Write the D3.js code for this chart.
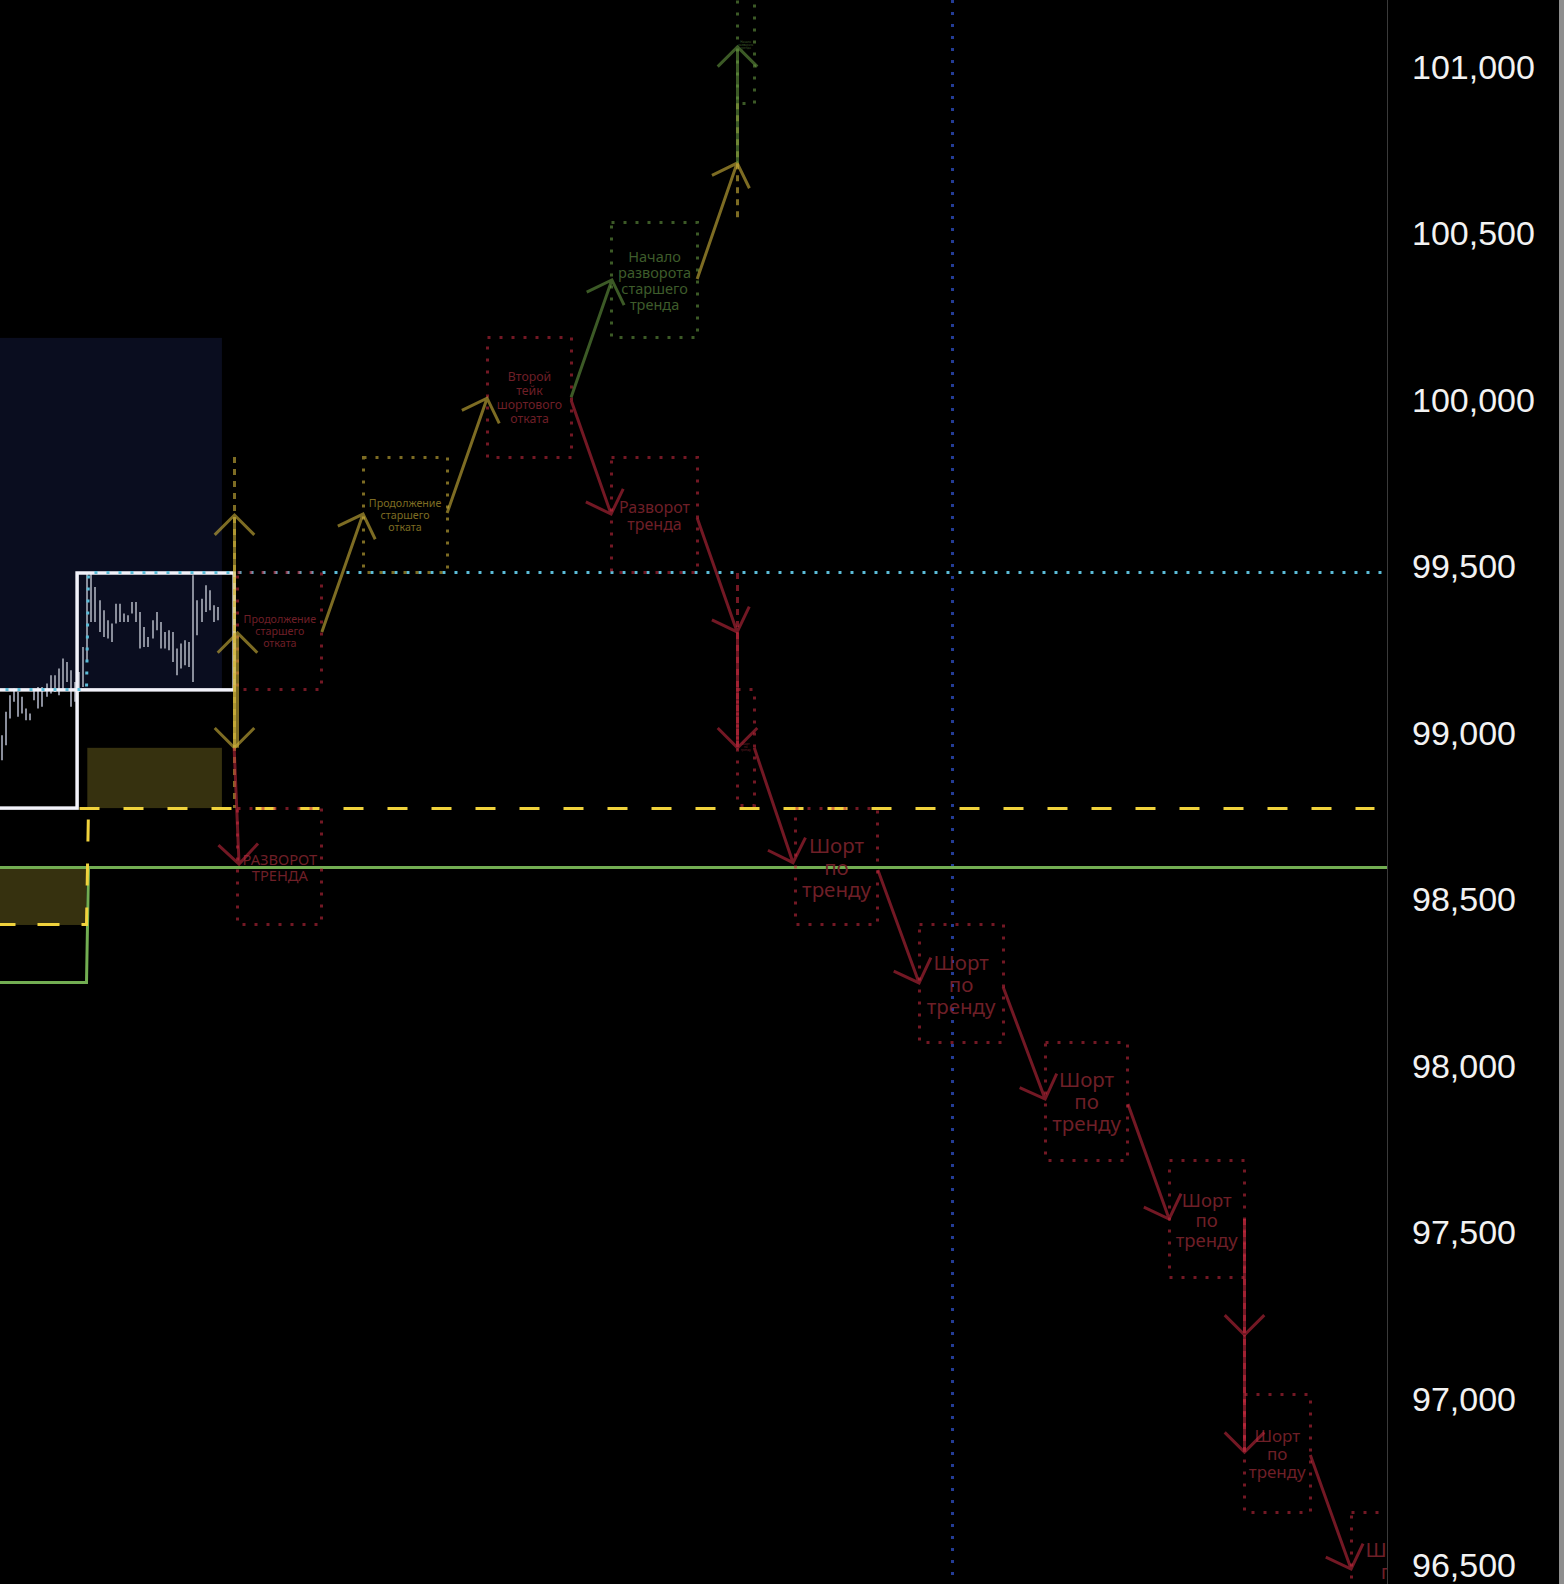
<!DOCTYPE html>
<html>
<head>
<meta charset="utf-8">
<script src="https://cdn.jsdelivr.net/npm/d3@7"></script>
<style>
html, body { margin: 0; padding: 0; background: #000; overflow: hidden; }
svg { display: block; }
</style>
</head>
<body>
<svg width="1564" height="1584"></svg>
<script>
// ---------- data ----------
// price axis
var priceTicks = [101000, 100500, 100000, 99500, 99000, 98500, 98000, 97500, 97000, 96500];

// price bars (index = bar number), high / low
var barHigh = [98995, 99065, 99115, 99135, 99125, 99110, 99075, 99060, 99130, 99140,
               99140, 99150, 99175, 99175, 99195, 99225, 99215, 99190, 99155, 99185,
               99260, 99485, 99485, 99440, 99400, 99370, 99340, 99330, 99390, 99390,
               99360, 99355, 99395, 99395, 99365, 99320, 99290, 99340, 99365, 99335,
               99305, 99310, 99305, 99255, 99270, 99280, 99275, 99475, 99400, 99405,
               99445, 99430, 99385, 99380];
var barLow  = [98920, 98965, 99045, 99095, 99050, 99060, 99040, 99040, 99100, 99075,
               99080, 99110, 99120, 99125, 99115, 99130, 99155, 99080, 99095, 99125,
               99140, 99220, 99335, 99335, 99305, 99290, 99285, 99275, 99330, 99335,
               99335, 99335, 99360, 99335, 99255, 99260, 99260, 99285, 99310, 99255,
               99255, 99250, 99215, 99175, 99195, 99205, 99200, 99155, 99295, 99335,
               99365, 99370, 99335, 99340];

// zones [fromBar, toBar, top, bottom]
var sessionZone = [-2, 54.0, 100188, 99131];
var fillZones = [[21.0, 54.0, 98957, 98776], [-2, 20.7, 98599, 98425]];
var rangeFrames = [[18.5, 57.0, 99482, 99131], [-6, 18.5, 99131, 98776]];

// level lines [bar, price]
var cyanLevel   = [[-2, 99131], [20.7, 99131], [21.4, 99482], [340, 99482]];
var yellowLevel = [[18.97, 98776], [336.5, 98776]];
var yellowStep  = [[-2, 98425], [20.7, 98425], [21.4, 98776]];
var greenLevel  = [[-2, 98599], [340, 98599]];
var greenStep   = [[-2, 98251], [20.7, 98251], [21.4, 98599]];
var sessionBar  = 233.2;

// scenario boxes
var shortText = ["Шорт", "по", "тренду"];
var boxes = [
  {from: 57.9,  to: 78.5,  hi: 99482,  lo: 99131, kind: "red",   text: ["Продолжение", "старшего", "отката"]},
  {from: 57.9,  to: 78.5,  hi: 98776,  lo: 98425, kind: "red",   text: ["РАЗВОРОТ", "ТРЕНДА"]},
  {from: 88.6,  to: 109.2, hi: 99830,  lo: 99482, kind: "olive", text: ["Продолжение", "старшего", "отката"]},
  {from: 119.2, to: 139.6, hi: 100188, lo: 99830, kind: "red",   text: ["Второй", "тейк", "шортового", "отката"]},
  {from: 149.6, to: 170.5, hi: 100536, lo: 100188, kind: "green", text: ["Начало", "разворота", "старшего", "тренда"]},
  {from: 149.6, to: 170.5, hi: 99830,  lo: 99482, kind: "red",   text: ["Разворот", "тренда"]},
  {from: 180.3, to: 184.5, hi: 99131,  lo: 98785, kind: "red",   text: shortText},
  {from: 180.3, to: 184.5, hi: 101245, lo: 100893, kind: "green", text: ["Начало", "разворота", "тренда"]},
  {from: 194.5, to: 214.8, hi: 98776,  lo: 98425, kind: "red",   text: shortText},
  {from: 224.9, to: 245.5, hi: 98425,  lo: 98071, kind: "red",   text: shortText},
  {from: 255.8, to: 276.1, hi: 98071,  lo: 97719, kind: "red",   text: shortText},
  {from: 286.2, to: 304.6, hi: 97719,  lo: 97365, kind: "red",   text: shortText},
  {from: 304.6, to: 320.8, hi: 97014,  lo: 96662, kind: "red",   text: shortText},
  {from: 330.8, to: 351.4, hi: 96662,  lo: 96310, kind: "red",   text: shortText}
];

// arrows [fromBar, fromPrice, toBar, toPrice, kind]
var arrows = [
  [57.0, 98957, 57.0, 99656, "olive"],
  [57.0, 99302, 57.0, 98957, "olive"],
  [57.9, 98957, 57.9, 99302, "olive"],
  [57.0, 98957, 58.2, 98608, "red"],
  [78.5, 99305, 88.6, 99659, "olive"],
  [109.2, 99662, 119.0, 100007, "olive"],
  [139.6, 100001, 149.4, 99659, "red"],
  [139.6, 100010, 149.6, 100362, "green"],
  [170.5, 100365, 180.3, 100713, "olive"],
  [180.3, 100713, 180.3, 101062, "green"],
  [170.5, 99647, 180.3, 99305, "red"],
  [180.3, 99305, 180.3, 98957, "red"],
  [184.5, 98957, 194.0, 98612, "red"],
  [214.8, 98590, 224.9, 98251, "red"],
  [245.5, 98239, 255.8, 97902, "red"],
  [276.1, 97887, 286.2, 97542, "red"],
  [304.6, 97542, 304.6, 97194, "red"],
  [304.6, 97194, 304.6, 96842, "red"],
  [320.8, 96833, 330.8, 96491, "red"]
];

// dashed vertical guides [bar, fromPrice, toPrice, kind]
var guides = [
  [57.0, 99830, 98776, "olive"],
  [180.3, 100893, 100548, "olive"],
  [180.3, 99482, 98957, "red"],
  [304.6, 97542, 96842, "red"]
];

// ---------- styles ----------
var kindColor = {red: "#c0283c", olive: "#d0b43a", green: "#64963f"};
var textColor = {red: "#6e1f27", olive: "#7d6c22", green: "#3e5c2b"};
var labelSize = [10.7, 14.7, 10.7, 12.3, 14.5, 16, 3, 3, 20.5, 20.5, 20.5, 18.5, 17, 20.5];
var labelStep = [12, 16, 12, 14, 16, 17, 3, 3, 22, 22, 22, 20, 18, 22];

// ---------- layout ----------
var svg = d3.select("svg"),
    width = 1564,
    height = 1584,
    plotRight = 1387;

var x = d3.scaleLinear().domain([-0.4, 339.6]).range([0, plotRight]);
var y = d3.scaleLinear().domain([96500, 101000]).range([1566, 67.5]);

// snap odd-width strokes onto the pixel grid so the dots stay crisp
function snap(v) { return Math.round(v - 0.5) + 0.5; }
var line = d3.line().x(function(d) { return snap(x(d[0])); }).y(function(d) { return snap(y(d[1])); });

svg.append("rect").attr("width", width).attr("height", height).attr("fill", "#000");

svg.append("defs").append("clipPath").attr("id", "plot")
  .append("rect").attr("width", plotRight).attr("height", height);

var g = svg.append("g").attr("clip-path", "url(#plot)");

// session background
g.append("rect")
    .attr("x", x(sessionZone[0])).attr("y", y(sessionZone[2]))
    .attr("width", x(sessionZone[1]) - x(sessionZone[0]))
    .attr("height", y(sessionZone[3]) - y(sessionZone[2]))
    .attr("fill", "#0a0d1f");

g.selectAll(".fill").data(fillZones).enter().append("rect")
    .attr("x", function(d) { return x(d[0]); })
    .attr("y", function(d) { return y(d[2]); })
    .attr("width", function(d) { return x(d[1]) - x(d[0]); })
    .attr("height", function(d) { return y(d[3]) - y(d[2]); })
    .attr("fill", "#36310f");

// blue session line
g.append("line")
    .attr("x1", snap(x(sessionBar))).attr("x2", snap(x(sessionBar)))
    .attr("y1", 0).attr("y2", height)
    .attr("stroke", "#233c96").attr("stroke-width", 3)
    .attr("stroke-dasharray", "3,9");

// bars
g.selectAll(".bar").data(barHigh).enter().append("line")
    .attr("x1", function(d, i) { return Math.round(x(i)); })
    .attr("x2", function(d, i) { return Math.round(x(i)); })
    .attr("y1", function(d) { return y(d); })
    .attr("y2", function(d, i) { return y(barLow[i]); })
    .attr("stroke", "#8a8e9b").attr("stroke-width", 2);

// range frames
g.selectAll(".frame").data(rangeFrames).enter().append("rect")
    .attr("x", function(d) { return x(d[0]); })
    .attr("y", function(d) { return y(d[2]); })
    .attr("width", function(d) { return x(d[1]) - x(d[0]); })
    .attr("height", function(d) { return y(d[3]) - y(d[2]); })
    .attr("fill", "none").attr("stroke", "#f2f2fa").attr("stroke-width", 3.5);

// levels
g.append("path").datum(cyanLevel).attr("d", line)
    .attr("fill", "none").attr("stroke", "#5bbcd8").attr("stroke-width", 3)
    .attr("stroke-dasharray", "3,9");
g.append("path").datum(greenStep).attr("d", line)
    .attr("fill", "none").attr("stroke", "#72ad52").attr("stroke-width", 3);
g.append("path").datum(greenLevel).attr("d", line)
    .attr("fill", "none").attr("stroke", "#72ad52").attr("stroke-width", 3);
g.append("path").datum(yellowStep).attr("d", line)
    .attr("fill", "none").attr("stroke", "#f0d23c").attr("stroke-width", 3)
    .attr("stroke-dasharray", "22,22");
g.append("path").datum(yellowLevel).attr("d", line)
    .attr("fill", "none").attr("stroke", "#f0d23c").attr("stroke-width", 3)
    .attr("stroke-dasharray", "20,24");

// scenario boxes
var box = g.selectAll(".box").data(boxes).enter().append("g");
box.append("rect")
    .attr("x", function(d) { return snap(x(d.from)); })
    .attr("y", function(d) { return snap(y(d.hi)); })
    .attr("width", function(d) { return snap(x(d.to)) - snap(x(d.from)); })
    .attr("height", function(d) { return snap(y(d.lo)) - snap(y(d.hi)); })
    .attr("fill", "none")
    .attr("stroke", function(d) { return kindColor[d.kind]; })
    .attr("stroke-opacity", 0.6)
    .attr("stroke-width", 3)
    .attr("stroke-dasharray", "3,9");

box.each(function(d, bi) {
  var cx = (x(d.from) + x(d.to)) / 2,
      cy = (y(d.hi) + y(d.lo)) / 2,
      n = d.text.length;
  d3.select(this).selectAll("text").data(d.text).enter().append("text")
      .attr("x", cx)
      .attr("y", function(t, i) { return cy + (i - (n - 1) / 2) * labelStep[bi]; })
      .attr("text-anchor", "middle")
      .attr("dominant-baseline", "central")
      .attr("font-family", "'Noto Sans', 'DejaVu Sans', sans-serif")
      .attr("font-size", labelSize[bi])
      .attr("fill", textColor[d.kind])
      .text(function(t) { return t; });
});

// guides
g.selectAll(".guide").data(guides).enter().append("line")
    .attr("x1", function(d) { return snap(x(d[0])); })
    .attr("x2", function(d) { return snap(x(d[0])); })
    .attr("y1", function(d) { return y(d[1]); })
    .attr("y2", function(d) { return y(d[2]); })
    .attr("stroke", function(d) { return kindColor[d[3]]; })
    .attr("stroke-opacity", 0.6)
    .attr("stroke-width", 3)
    .attr("stroke-dasharray", "6,6");

// arrows
function arrowPath(d) {
  var x0 = x(d[0]), y0 = y(d[1]), x1 = x(d[2]), y1 = y(d[3]);
  if (d[0] === d[2]) { x0 = x1 = snap(x1); }
  var a = Math.atan2(y0 - y1, x0 - x1), L = 28, s = Math.PI / 4;
  return "M" + x0 + "," + y0 + "L" + x1 + "," + y1 +
         "M" + (x1 + L * Math.cos(a + s)) + "," + (y1 + L * Math.sin(a + s)) +
         "L" + x1 + "," + y1 +
         "L" + (x1 + L * Math.cos(a - s)) + "," + (y1 + L * Math.sin(a - s));
}
g.selectAll(".arrow").data(arrows).enter().append("path")
    .attr("d", arrowPath)
    .attr("fill", "none")
    .attr("stroke", function(d) { return kindColor[d[4]]; })
    .attr("stroke-opacity", 0.6)
    .attr("stroke-width", 3)
    .attr("stroke-linejoin", "miter");

// ---------- price scale ----------
svg.append("line")
    .attr("x1", plotRight + 0.5).attr("x2", plotRight + 0.5)
    .attr("y1", 0).attr("y2", height)
    .attr("stroke", "#3a3a3a").attr("stroke-width", 1);

svg.append("rect")
    .attr("x", 1559).attr("y", 0).attr("width", 5).attr("height", height)
    .attr("fill", "#8e8e8e");

var axis = svg.append("g")
    .attr("transform", "translate(" + plotRight + ",0)")
    .call(d3.axisRight(y).tickValues(priceTicks).tickFormat(d3.format(",")).tickSize(0).tickPadding(25));
axis.select(".domain").remove();
axis.selectAll("text")
    .attr("fill", "#f2f2f2")
    .attr("font-family", "'Liberation Sans', Arial, sans-serif")
    .attr("font-size", 34);
</script>
</body>
</html>
